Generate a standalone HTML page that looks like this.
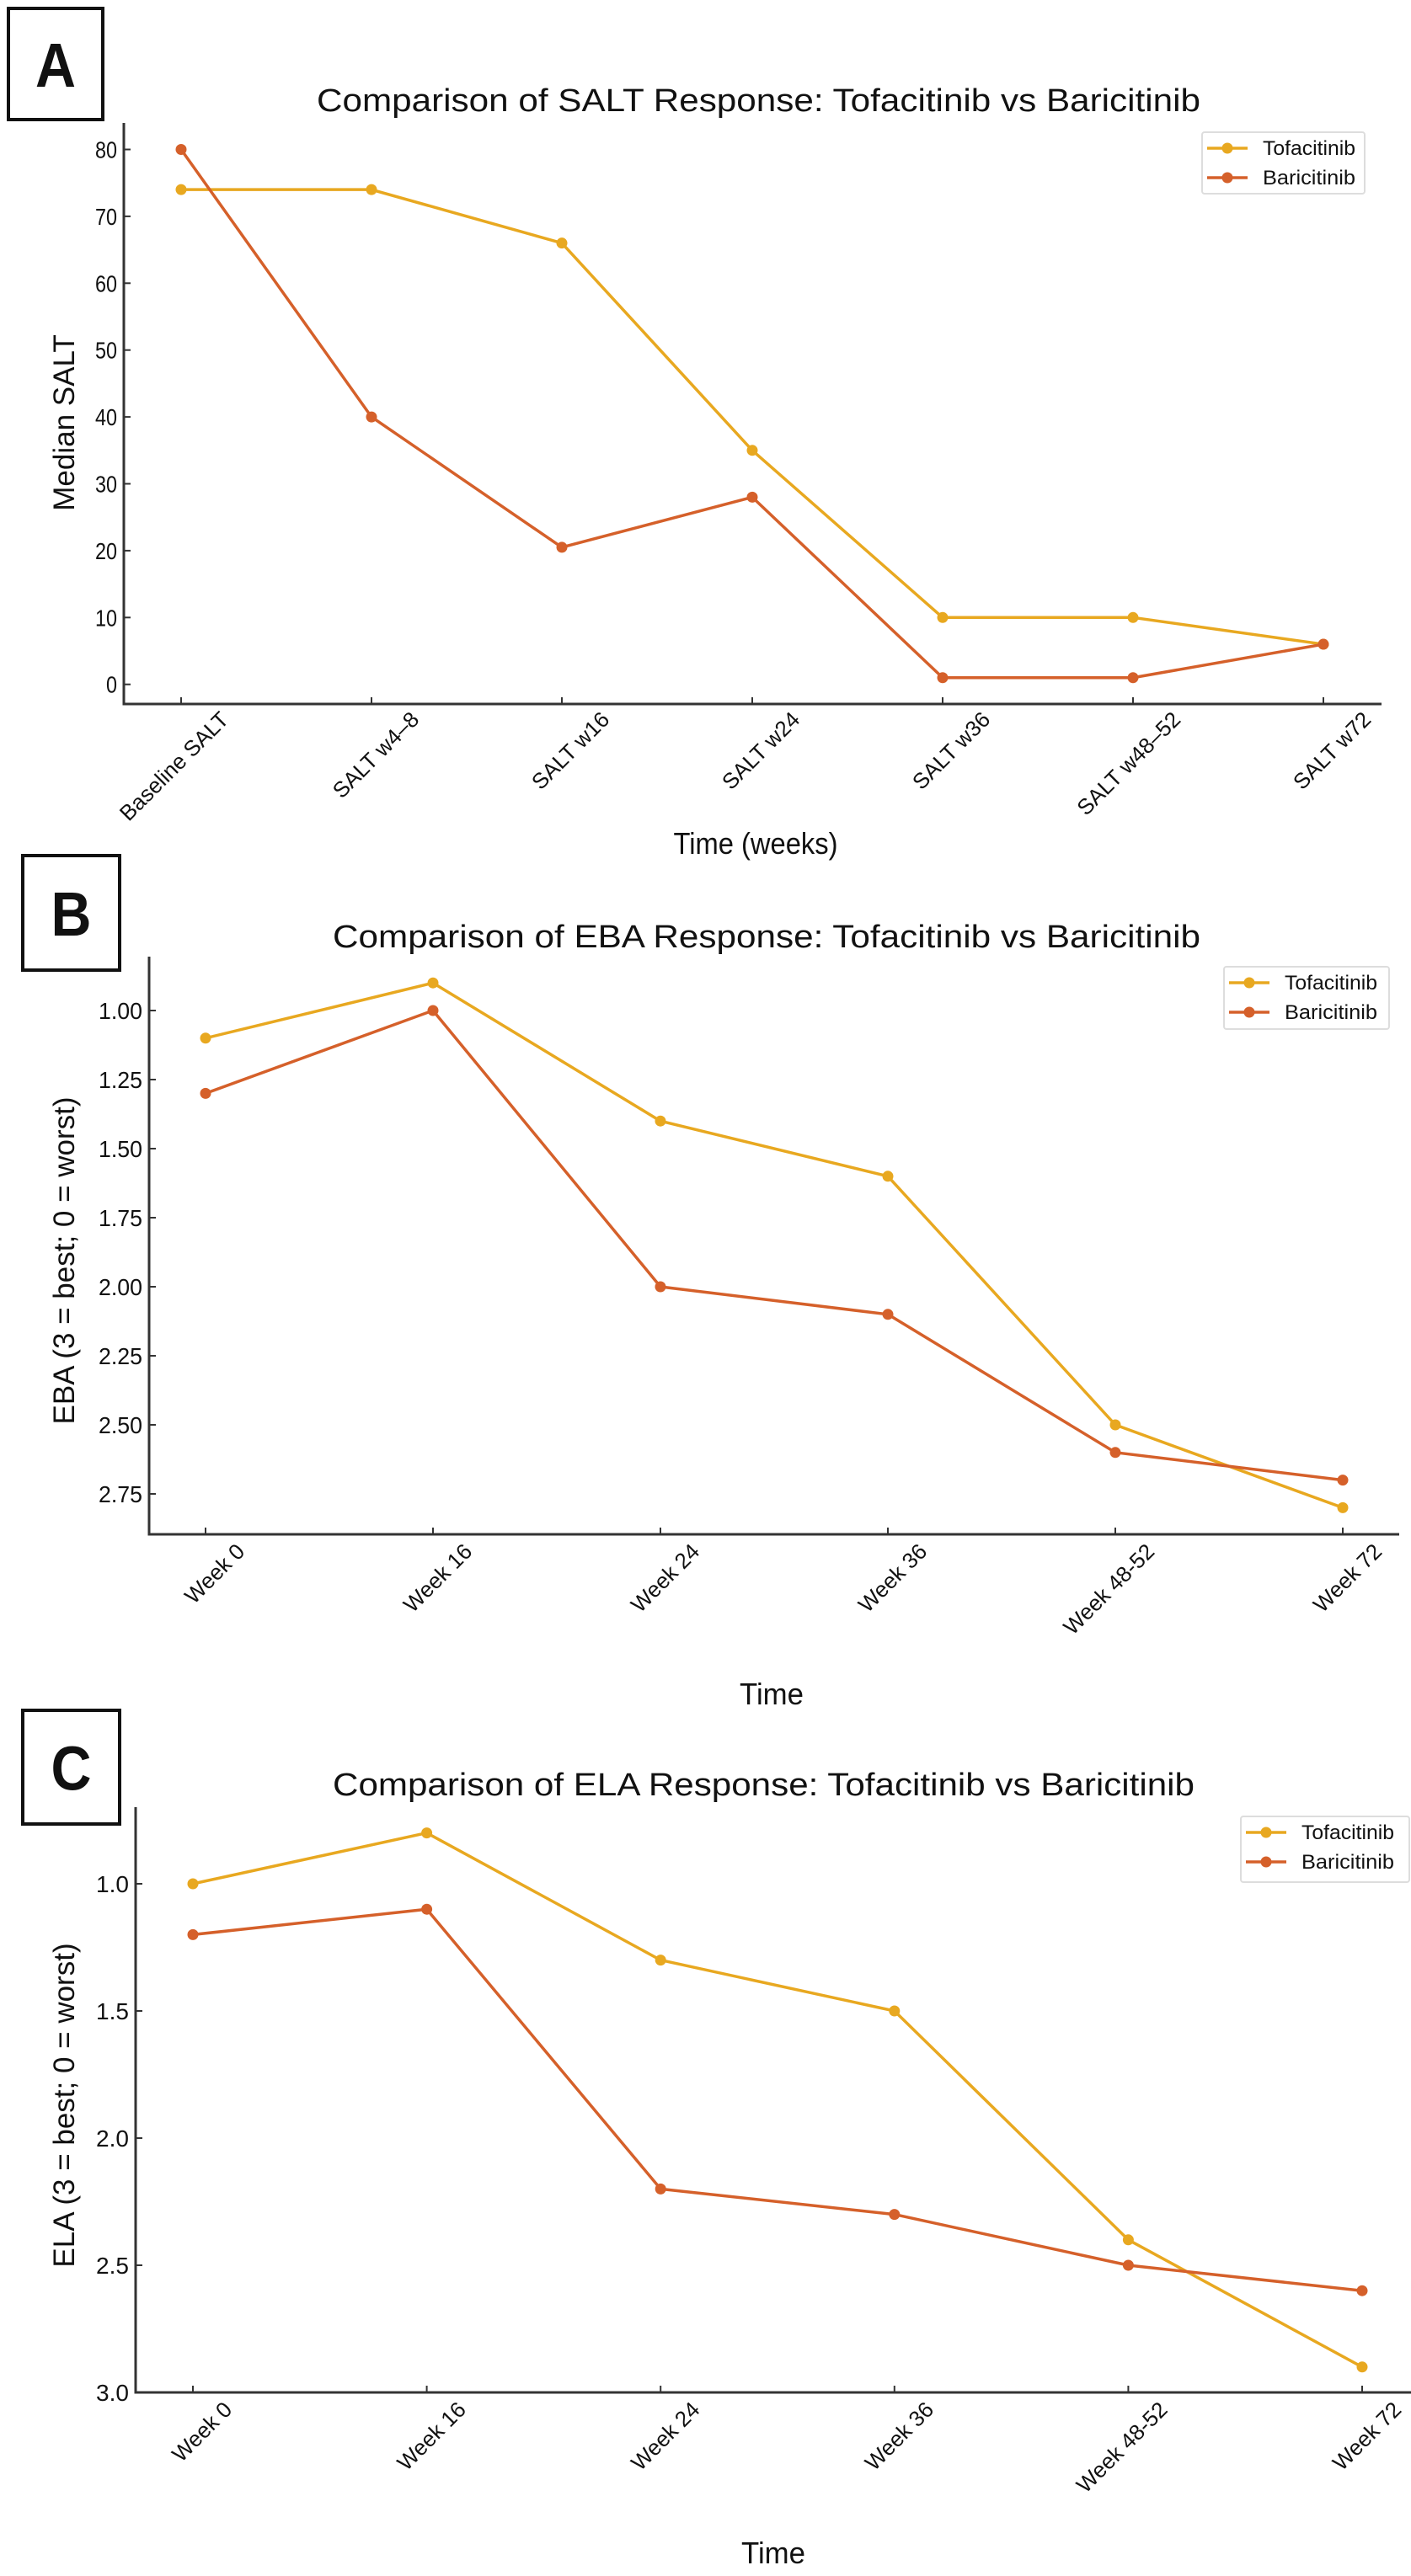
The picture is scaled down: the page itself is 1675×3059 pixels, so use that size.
<!DOCTYPE html>
<html><head><meta charset="utf-8"><style>
html,body{margin:0;padding:0;background:#fff;}
svg{display:block;}
text{font-family:"Liberation Sans",sans-serif;fill:#111;}
</style></head><body>
<svg id="fig" width="1675" height="3059" viewBox="0 0 1675 3059" xmlns="http://www.w3.org/2000/svg">
<rect x="0" y="0" width="1675" height="3059" fill="#fff"/>
</svg>
<script>
// Panel A data
const saltCategories = ["Baseline SALT","SALT w4\u20138","SALT w16","SALT w24","SALT w36","SALT w48\u201352","SALT w72"];
const saltTofa = [74, 74, 66, 35, 10, 10, 6];
const saltBari = [80, 40, 20.5, 28, 1, 1, 6];
const saltTicks = [0,10,20,30,40,50,60,70,80];
const saltTickLabels = ["0","10","20","30","40","50","60","70","80"];
// Panel B data
const ebaCategories = ["Week 0","Week 16","Week 24","Week 36","Week 48-52","Week 72"];
const ebaTofa = [1.1, 0.9, 1.4, 1.6, 2.5, 2.8];
const ebaBari = [1.3, 1.0, 2.0, 2.1, 2.6, 2.7];
const ebaTicks = [1.0,1.25,1.5,1.75,2.0,2.25,2.5,2.75];
const ebaTickLabels = ["1.00","1.25","1.50","1.75","2.00","2.25","2.50","2.75"];
// Panel C data
const elaCategories = ["Week 0","Week 16","Week 24","Week 36","Week 48-52","Week 72"];
const elaTofa = [1.0, 0.8, 1.3, 1.5, 2.4, 2.9];
const elaBari = [1.2, 1.1, 2.2, 2.3, 2.5, 2.6];
const elaTicks = [1.0,1.5,2.0,2.5,3.0];
const elaTickLabels = ["1.0","1.5","2.0","2.5","3.0"];

const NS="http://www.w3.org/2000/svg";
const svg=document.getElementById('fig');
const TOFA="#E8A820", BARI="#D5602A";
function mk(tag,attrs,parent){const e=document.createElementNS(NS,tag);for(const k in attrs)e.setAttribute(k,attrs[k]);(parent||svg).appendChild(e);return e;}

function panel(cfg){
  const g=mk('g',{});
  
  
  const bx=mk('rect',{x:cfg.box[0],y:cfg.box[1],width:cfg.box[2],height:cfg.box[3],fill:'#fff',stroke:'#111','stroke-width':4},g);
  
  
  const bt=mk('text',{x:cfg.box[0]+cfg.box[2]/2,y:cfg.box[1]+cfg.box[3]/2+27,'text-anchor':'middle','font-size':74,'font-weight':'bold',textLength:48,lengthAdjust:'spacingAndGlyphs'},g);
  bt.textContent=cfg.letter;
  
  
  const t=mk('text',{x:(cfg.titleX[0]+cfg.titleX[1])/2,y:cfg.titleY,'text-anchor':'middle','font-size':38,textLength:cfg.titleX[1]-cfg.titleX[0],lengthAdjust:'spacingAndGlyphs'},g);
  t.textContent=cfg.title;
  
  
  const n=cfg.cats.length;
  const xs=i=>cfg.x0+(cfg.x1-cfg.x0)*i/(n-1);
  const ys=v=>cfg.yA+(v-cfg.vA)*(cfg.yB-cfg.yA)/(cfg.vB-cfg.vA);
  const sp=mk('path',{d:`M${cfg.left},${cfg.top} V${cfg.bottom} H${cfg.right}`,fill:'none',stroke:'#333','stroke-width':3},g);
  
  
  cfg.yticks.forEach((v,i)=>{
    const y=ys(v);
    mk('line',{x1:cfg.left,x2:cfg.left+8,y1:y,y2:y,stroke:'#333','stroke-width':2},g);
    const tl=mk('text',{x:cfg.left-8,y:y+10,'text-anchor':'end','font-size':28,textLength:13*cfg.ylabels[i].length,lengthAdjust:'spacingAndGlyphs'},g);
    tl.textContent=cfg.ylabels[i];
    
    
  });
  cfg.cats.forEach((c,i)=>{
    const x=xs(i);
    mk('line',{x1:x,x2:x,y1:cfg.bottom,y2:cfg.bottom-8,stroke:'#333','stroke-width':2},g);
    const ax=x+cfg.xoff[0], ay=cfg.bottom+cfg.xoff[1];
    const tl=mk('text',{x:ax,y:ay,'text-anchor':'end','font-size':cfg.xfs,transform:`rotate(-45 ${ax} ${ay})`},g);
    tl.textContent=c;
    
    
  });
  const yt=mk('text',{x:cfg.ytitle[0],y:cfg.ytitle[1],'text-anchor':'middle','font-size':35,transform:`rotate(-90 ${cfg.ytitle[0]} ${cfg.ytitle[1]})`},g);
  yt.textContent=cfg.ylabel;
  
  
  const xt=mk('text',{x:cfg.xtitle[0],y:cfg.xtitle[1],'text-anchor':'middle','font-size':36,textLength:cfg.xtitleW,lengthAdjust:'spacingAndGlyphs'},g);
  xt.textContent=cfg.xlabel;
  
  
  [[cfg.tofa,TOFA,'tofacitinib'],[cfg.bari,BARI,'baricitinib']].forEach(([vals,col,nm])=>{
    const pts=vals.map((v,i)=>xs(i)+','+ys(v)).join(' ');
    const pl=mk('polyline',{points:pts,fill:'none',stroke:col,'stroke-width':3.5,'stroke-linejoin':'round'},g);
    
    
    vals.forEach((v,i)=>{
      const c=mk('circle',{cx:xs(i),cy:ys(v),r:6.5,fill:col},g);
      
      
    });
  });
  const L=cfg.legend;
  const lg=mk('g',{},g);
  
  
  mk('rect',{x:L[0],y:L[1],width:L[2],height:L[3],rx:3,fill:'#fff',stroke:'#ddd','stroke-width':2},lg);
  [['Tofacitinib',TOFA],['Baricitinib',BARI]].forEach(([nm,col],k)=>{
    const ey=L[1]+19+k*35;
    mk('line',{x1:L[0]+6,x2:L[0]+54,y1:ey,y2:ey,stroke:col,'stroke-width':3.5},lg);
    mk('circle',{cx:L[0]+30,cy:ey,r:6.5,fill:col},lg);
    const tt=mk('text',{x:L[0]+72,y:ey+8,'font-size':24,textLength:110,lengthAdjust:'spacingAndGlyphs'},lg);
    tt.textContent=nm;
    
    
  });
}

panel({id:'salt',letter:'A',box:[10,10,112,132],title:'Comparison of SALT Response: Tofacitinib vs Baricitinib',titleX:[376,1425],titleY:132,
  left:147,top:146,bottom:836,right:1640,x0:215,x1:1571,vA:0,yA:812.7,vB:80,yB:177.5,
  cats:saltCategories,tofa:saltTofa,bari:saltBari,yticks:saltTicks,ylabels:saltTickLabels,
  xoff:[58,20],xfs:26,ytitle:[88,502],ylabel:'Median SALT',xtitle:[897,1014],xlabel:'Time (weeks)',xtitleW:195,
  legend:[1427,157,193,73]});
panel({id:'eba',letter:'B',box:[27,1016,115,136],title:'Comparison of EBA Response: Tofacitinib vs Baricitinib',titleX:[395,1425],titleY:1125,
  left:177,top:1136,bottom:1822,right:1661,x0:244,x1:1594,vA:1.0,yA:1200,vB:2.75,yB:1774,
  cats:ebaCategories,tofa:ebaTofa,bari:ebaBari,yticks:ebaTicks,ylabels:ebaTickLabels,
  xoff:[48,22],xfs:26,ytitle:[88,1497],ylabel:'EBA (3 = best; 0 = worst)',xtitle:[916,2024],xlabel:'Time',xtitleW:76,
  legend:[1453,1148,196,74]});
panel({id:'ela',letter:'C',box:[27,2031,115,135],title:'Comparison of ELA Response: Tofacitinib vs Baricitinib',titleX:[395,1418],titleY:2132,
  left:161,top:2146,bottom:2841,right:1675,x0:229,x1:1617,vA:1.0,yA:2237,vB:3.0,yB:2841,
  cats:elaCategories,tofa:elaTofa,bari:elaBari,yticks:elaTicks,ylabels:elaTickLabels,
  xoff:[48,22],xfs:26,ytitle:[88,2500],ylabel:'ELA (3 = best; 0 = worst)',xtitle:[918,3044],xlabel:'Time',xtitleW:76,
  legend:[1473,2157,200,78]});
</script>
</body></html>
